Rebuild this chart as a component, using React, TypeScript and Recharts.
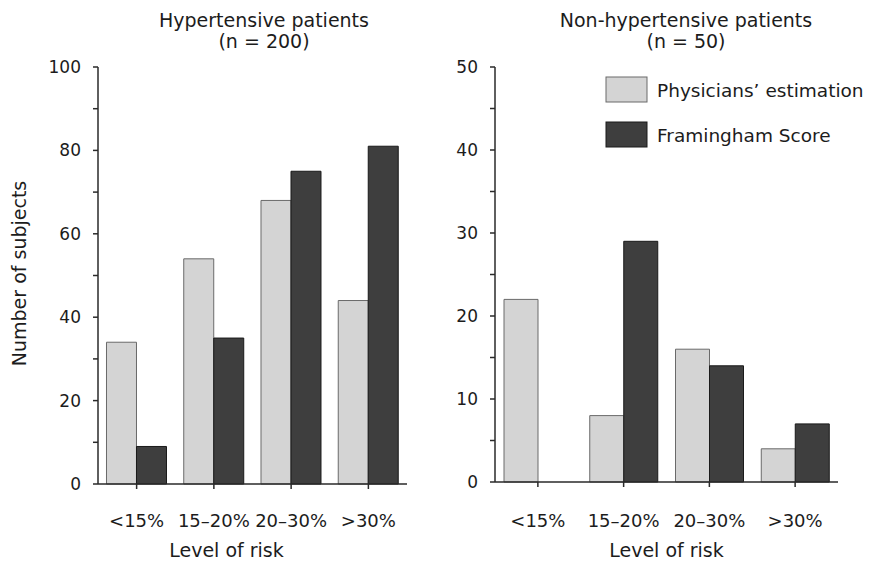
import React from 'react';
import { BarChart, Bar, XAxis, YAxis, Legend, Label } from 'recharts';

const categories = ['<15%', '15–20%', '20–30%', '>30%'];
const hyperPhysicians = [34, 54, 68, 44];
const hyperFramingham = [9, 35, 75, 81];
const nonHyperPhysicians = [22, 8, 16, 4];
const nonHyperFramingham = [0, 29, 14, 7];

const hyperTicks = [0, 10, 20, 30, 40, 50, 60, 70, 80, 90, 100];
const hyperLabelTicks = [0, 20, 40, 60, 80, 100];
const nonHyperTicks = [0, 5, 10, 15, 20, 25, 30, 35, 40, 45, 50];
const nonHyperLabelTicks = [0, 10, 20, 30, 40, 50];

const seriesNames = ['Physicians’ estimation', 'Framingham Score'];

const hyperData = categories.map((c, i) => ({
  cat: c,
  phys: hyperPhysicians[i],
  fram: hyperFramingham[i],
}));
const nonHyperData = categories.map((c, i) => ({
  cat: c,
  phys: nonHyperPhysicians[i],
  fram: nonHyperFramingham[i],
}));

const FONT = '"DejaVu Sans", "Liberation Sans", sans-serif';
const TEXT = '#1c1c1c';
const PHYS_FILL = '#d4d4d4';
const PHYS_STROKE = '#6a6a6a';
const FRAM_FILL = '#3e3e3e';
const FRAM_STROKE = '#1a1a1a';
const AXIS = '#2a2a2a';

const tickStyle = { fontSize: 17, fill: TEXT, fontFamily: FONT };
const xTickStyle = { fontSize: 18, fill: TEXT, fontFamily: FONT };

const LegendContent = (props: any) => {
  const payload = [...(props.payload || [])].sort(
    (a: any, b: any) => seriesNames.indexOf(a.value) - seriesNames.indexOf(b.value)
  );
  return (
    <div style={{ fontFamily: FONT }}>
      {payload.map((e: any, i: number) => {
        const isPhys = e.value === seriesNames[0];
        return (
          <div key={i} style={{ display: 'flex', alignItems: 'center', height: 26, marginBottom: 19 }}>
            <svg width={44} height={28} style={{ display: 'block' }}>
              <rect
                x={1}
                y={1}
                width={41}
                height={25}
                fill={isPhys ? PHYS_FILL : FRAM_FILL}
                stroke={isPhys ? PHYS_STROKE : FRAM_STROKE}
                strokeWidth={1}
              />
            </svg>
            <span style={{ fontSize: 18.5, color: TEXT, marginLeft: 8, whiteSpace: 'nowrap' }}>{e.value}</span>
          </div>
        );
      })}
    </div>
  );
};

const YTitle = (props: any) => {
  const vb = props.viewBox || { x: 0, y: 0, height: 0 };
  const cx = 26;
  const cy = vb.y + vb.height / 2 - 2;
  return (
    <text
      x={cx}
      y={cy}
      transform={`rotate(-90, ${cx}, ${cy})`}
      textAnchor="middle"
      fontSize={19}
      fontFamily={FONT}
      fill={TEXT}
    >
      Number of subjects
    </text>
  );
};

const titleStyle: React.CSSProperties = {
  position: 'absolute',
  fontFamily: FONT,
  fontSize: 19,
  lineHeight: '21px',
  color: TEXT,
  textAlign: 'center',
  width: 300,
};

export default function App() {
  return (
    <div style={{ position: 'absolute', left: 0, top: 0, width: 881, height: 562, background: '#fff', overflow: 'hidden' }}>
      <div style={{ ...titleStyle, left: 264 - 150, top: 10 }}>
        Hypertensive patients
        <br />
        (n = 200)
      </div>
      <div style={{ ...titleStyle, left: 686 - 150, top: 10 }}>
        Non-hypertensive patients
        <br />
        (n = 50)
      </div>

      <div style={{ position: 'absolute', left: 0, top: 0 }}>
        <BarChart
          width={440}
          height={562}
          data={hyperData}
          margin={{ top: 67, right: 33, bottom: 5, left: 48 }}
          barCategoryGap="11%"
          barGap={0}
        >
          <XAxis
            dataKey="cat"
            height={73}
            tickSize={5}
            tickMargin={25}
            tick={xTickStyle}
            stroke={AXIS}
            strokeWidth={1.5}
            interval={0}
          >
            <Label
              value="Level of risk"
              position="insideBottom"
              offset={0}
              dx={-26}
              style={{ fontSize: 19, fill: TEXT, fontFamily: FONT }}
            />
          </XAxis>
          <YAxis
            width={50}
            domain={[0, 100]}
            ticks={hyperTicks}
            tickFormatter={(v: number) => (hyperLabelTicks.includes(v) ? String(v) : '')}
            tickSize={5}
            tickMargin={12}
            tick={tickStyle}
            stroke={AXIS}
            strokeWidth={1.5}
            interval={0}
          >
            <Label content={YTitle} />
          </YAxis>
          <Bar dataKey="phys" name={seriesNames[0]} fill={PHYS_FILL} stroke={PHYS_STROKE} strokeWidth={1} isAnimationActive={false} />
          <Bar dataKey="fram" name={seriesNames[1]} fill={FRAM_FILL} stroke={FRAM_STROKE} strokeWidth={1} isAnimationActive={false} />
        </BarChart>
      </div>

      <div style={{ position: 'absolute', left: 440, top: 0 }}>
        <BarChart
          width={441}
          height={562}
          data={nonHyperData}
          margin={{ top: 67, right: 43, bottom: 5, left: 5 }}
          barCategoryGap="10.5%"
          barGap={0}
        >
          <XAxis
            dataKey="cat"
            height={75}
            tickSize={5}
            tickMargin={27}
            tick={xTickStyle}
            stroke={AXIS}
            strokeWidth={1.5}
            interval={0}
          >
            <Label
              value="Level of risk"
              position="insideBottom"
              offset={0}
              style={{ fontSize: 19, fill: TEXT, fontFamily: FONT }}
            />
          </XAxis>
          <YAxis
            width={50}
            domain={[0, 50]}
            ticks={nonHyperTicks}
            tickFormatter={(v: number) => (nonHyperLabelTicks.includes(v) ? String(v) : '')}
            tickSize={5}
            tickMargin={12}
            tick={tickStyle}
            stroke={AXIS}
            strokeWidth={1.5}
            interval={0}
          />
          <Legend
            layout="vertical"
            align="center"
            verticalAlign="middle"
            content={LegendContent}
            wrapperStyle={{ top: 77, left: 165, width: 270, height: 80 }}
          />
          <Bar dataKey="phys" name={seriesNames[0]} fill={PHYS_FILL} stroke={PHYS_STROKE} strokeWidth={1} isAnimationActive={false} />
          <Bar dataKey="fram" name={seriesNames[1]} fill={FRAM_FILL} stroke={FRAM_STROKE} strokeWidth={1} isAnimationActive={false} />
        </BarChart>
      </div>
    </div>
  );
}
